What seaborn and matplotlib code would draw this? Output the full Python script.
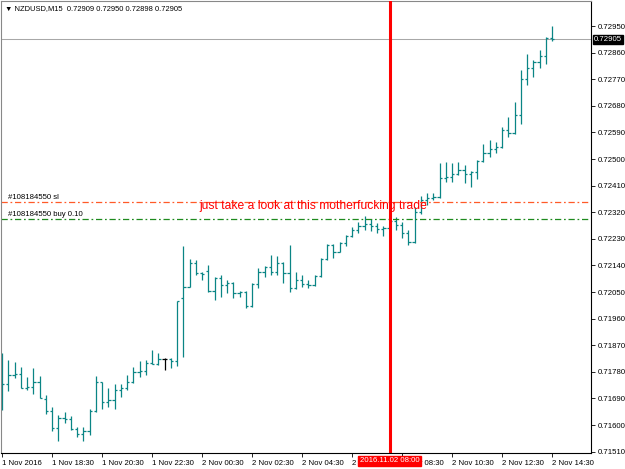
import numpy as np
import matplotlib
matplotlib.use("Agg")
import matplotlib.pyplot as plt
import matplotlib.transforms as mtransforms
import seaborn as sns

# NZDUSD M15, 1 Nov 16:30 .. 2 Nov 14:30
opens = [0.71702, 0.71739, 0.71769, 0.71773, 0.71725, 0.71729, 0.71745, 0.71688, 0.71647, 0.71590,
         0.71624, 0.71620, 0.71586, 0.71570, 0.71580, 0.71647, 0.71745, 0.71678, 0.71683, 0.71718,
         0.71725, 0.71745, 0.71779, 0.71783, 0.71810, 0.71806, 0.71823, 0.71823, 0.71817, 0.72030,
         0.72067, 0.72148, 0.72114, 0.72121, 0.72053, 0.72097, 0.72074, 0.72081, 0.72047, 0.72050,
         0.72003, 0.72077, 0.72118, 0.72135, 0.72118, 0.72148, 0.72114, 0.72064, 0.72091, 0.72077,
         0.72074, 0.72104, 0.72162, 0.72209, 0.72185, 0.72216, 0.72240, 0.72260, 0.72273, 0.72280,
         0.72273, 0.72263, 0.72267, 0.72290, 0.72277, 0.72250, 0.72219, 0.72321, 0.72361, 0.72368,
         0.72372, 0.72436, 0.72439, 0.72449, 0.72463, 0.72449, 0.72456, 0.72493, 0.72520, 0.72534,
         0.72541, 0.72598, 0.72588, 0.72649, 0.72771, 0.72808, 0.72828, 0.72849, 0.72909]
highs = [0.71844, 0.71820, 0.71813, 0.71796, 0.71762, 0.71793, 0.71766, 0.71702, 0.71661, 0.71634,
         0.71644, 0.71630, 0.71593, 0.71593, 0.71654, 0.71766, 0.71745, 0.71725, 0.71739, 0.71739,
         0.71769, 0.71796, 0.71817, 0.71820, 0.71854, 0.71844, 0.71827, 0.71827, 0.72020, 0.72206,
         0.72162, 0.72158, 0.72118, 0.72141, 0.72101, 0.72108, 0.72091, 0.72084, 0.72053, 0.72053,
         0.72081, 0.72131, 0.72138, 0.72175, 0.72172, 0.72152, 0.72209, 0.72118, 0.72108, 0.72091,
         0.72108, 0.72165, 0.72212, 0.72212, 0.72219, 0.72243, 0.72270, 0.72287, 0.72307, 0.72297,
         0.72284, 0.72273, 0.72311, 0.72304, 0.72287, 0.72260, 0.72338, 0.72375, 0.72385, 0.72385,
         0.72487, 0.72490, 0.72487, 0.72490, 0.72480, 0.72460, 0.72497, 0.72551, 0.72564, 0.72558,
         0.72608, 0.72642, 0.72693, 0.72801, 0.72855, 0.72835, 0.72869, 0.72913, 0.72950]
lows = [0.71651, 0.71715, 0.71759, 0.71725, 0.71718, 0.71705, 0.71691, 0.71637, 0.71580, 0.71546,
        0.71607, 0.71583, 0.71559, 0.71546, 0.71566, 0.71644, 0.71654, 0.71661, 0.71654, 0.71695,
        0.71718, 0.71742, 0.71762, 0.71769, 0.71806, 0.71803, 0.71786, 0.71793, 0.71800, 0.71830,
        0.72067, 0.72108, 0.72091, 0.72050, 0.72023, 0.72033, 0.72047, 0.72030, 0.72033, 0.71996,
        0.71999, 0.72064, 0.72101, 0.72108, 0.72108, 0.72081, 0.72050, 0.72060, 0.72067, 0.72064,
        0.72070, 0.72101, 0.72158, 0.72165, 0.72185, 0.72206, 0.72236, 0.72250, 0.72260, 0.72256,
        0.72250, 0.72240, 0.72246, 0.72260, 0.72233, 0.72209, 0.72216, 0.72315, 0.72344, 0.72361,
        0.72368, 0.72422, 0.72422, 0.72446, 0.72419, 0.72405, 0.72432, 0.72490, 0.72507, 0.72520,
        0.72538, 0.72574, 0.72585, 0.72618, 0.72750, 0.72777, 0.72808, 0.72821, 0.72898]
closes = [0.71739, 0.71769, 0.71773, 0.71725, 0.71729, 0.71745, 0.71691, 0.71647, 0.71590, 0.71624,
          0.71620, 0.71586, 0.71570, 0.71580, 0.71647, 0.71745, 0.71678, 0.71683, 0.71718, 0.71725,
          0.71745, 0.71779, 0.71783, 0.71810, 0.71806, 0.71823, 0.71823, 0.71817, 0.72020, 0.72067,
          0.72148, 0.72114, 0.72111, 0.72053, 0.72097, 0.72074, 0.72081, 0.72047, 0.72050, 0.72003,
          0.72077, 0.72118, 0.72135, 0.72118, 0.72148, 0.72114, 0.72064, 0.72091, 0.72077, 0.72074,
          0.72104, 0.72162, 0.72209, 0.72185, 0.72216, 0.72240, 0.72260, 0.72273, 0.72280, 0.72273,
          0.72263, 0.72267, 0.72290, 0.72277, 0.72250, 0.72219, 0.72321, 0.72361, 0.72368, 0.72372,
          0.72436, 0.72439, 0.72449, 0.72463, 0.72449, 0.72456, 0.72493, 0.72520, 0.72534, 0.72541,
          0.72598, 0.72588, 0.72649, 0.72771, 0.72808, 0.72828, 0.72849, 0.72909, 0.72905]

price_ticks = [0.71510, 0.71600, 0.71690, 0.71780, 0.71870, 0.71960, 0.72050, 0.72140, 0.72230,
               0.72320, 0.72410, 0.72500, 0.72590, 0.72680, 0.72770, 0.72860, 0.72950]
time_labels = ["1 Nov 2016", "1 Nov 18:30", "1 Nov 20:30", "1 Nov 22:30", "2 Nov 00:30",
               "2 Nov 02:30", "2 Nov 04:30", "2 Nov 06:30", "2 Nov 08:30", "2 Nov 10:30",
               "2 Nov 12:30", "2 Nov 14:30"]
last_price = 0.72905
sl_price = 0.72355
buy_price = 0.72297
marker_bar = 62   # 2016.11.02 08:00

sns.set_theme(style="white")
plt.rcParams['font.family'] = ['Liberation Sans', 'DejaVu Sans']

fig = plt.figure(figsize=(6.25, 4.69), dpi=100)
ax = fig.add_axes([1/625, 16/469, 590/625, 452/469])
ax.set_facecolor("white")

n = len(opens)
x = np.arange(n)
o = np.array(opens); c = np.array(closes)
cols = np.where(np.isclose(o, c), "black", "#0a8585")
tw = 0.36
ax.vlines(x, lows, highs, colors=cols, lw=0.9)
ax.hlines(opens, x - tw, x, colors=cols, lw=0.9)
ax.hlines(closes, x, x + tw, colors=cols, lw=0.9)

ax.axhline(last_price, color="#a8a8a8", lw=0.75, zorder=1)
ax.axhline(sl_price, color="#ff5a28", lw=0.9, dashes=(5, 2.2, 1.4, 2.2))
ax.axhline(buy_price, color="#1e8a1e", lw=0.9, dashes=(5, 2.2, 1.4, 2.2))
ax.axvline(marker_bar, color="red", lw=2.2, zorder=5)

ax.text(1.0, sl_price + 0.00004, "#108184550 sl", fontsize=5.6, color="black", va="bottom")
ax.text(1.0, buy_price + 0.00004, "#108184550 buy 0.10", fontsize=5.6, color="black", va="bottom")
ax.text(31.6, 0.72340, "just take a look at this motherfucking trade", fontsize=8.7,
        color="red", va="center", ha="left", zorder=4)

ax.set_xlim(-0.16, 94.24)
ax.set_ylim(0.715053, 0.730346)

ax.yaxis.tick_right()
ax.set_yticks(price_ticks)
ax.set_yticklabels([f"{p:.5f}" for p in price_ticks])
ax.set_xticks(np.arange(0, n, 8))
ax.set_xticklabels(time_labels, ha="left")
ax.tick_params(axis="both", which="major", labelsize=5.6, colors="black", length=3, width=0.6,
               direction="out", pad=1.5)
ax.tick_params(axis="x", bottom=True, pad=2)
ax.tick_params(axis="y", right=True, left=False)

for s in ax.spines.values():
    s.set_color("black")
    s.set_linewidth(0.8)
    s.set_visible(True)
ax.spines['left'].set_color("#888888")
ax.spines['top'].set_color("#888888")

trans = mtransforms.blended_transform_factory(ax.transAxes, ax.transData)
ax.text(1.005, last_price, f"{last_price:.5f}", transform=trans, fontsize=5.6, color="white",
        va="center", ha="left", zorder=10,
        bbox=dict(boxstyle="square,pad=0.15", fc="black", ec="black"))

transx = mtransforms.blended_transform_factory(ax.transData, ax.transAxes)
ax.text(marker_bar, -0.0175, "2016.11.02 08:00", transform=transx, fontsize=5.6, color="white",
        va="center", ha="center", zorder=10, clip_on=False,
        bbox=dict(boxstyle="square,pad=0.2", fc="red", ec="red"))

fig.text(5/625, 1 - 9/469, "\u25bc NZDUSD,M15  0.72909 0.72950 0.72898 0.72905", fontsize=5.4,
         color="black", va="center", ha="left")

fig.savefig("out.png", dpi=100, facecolor="white")
